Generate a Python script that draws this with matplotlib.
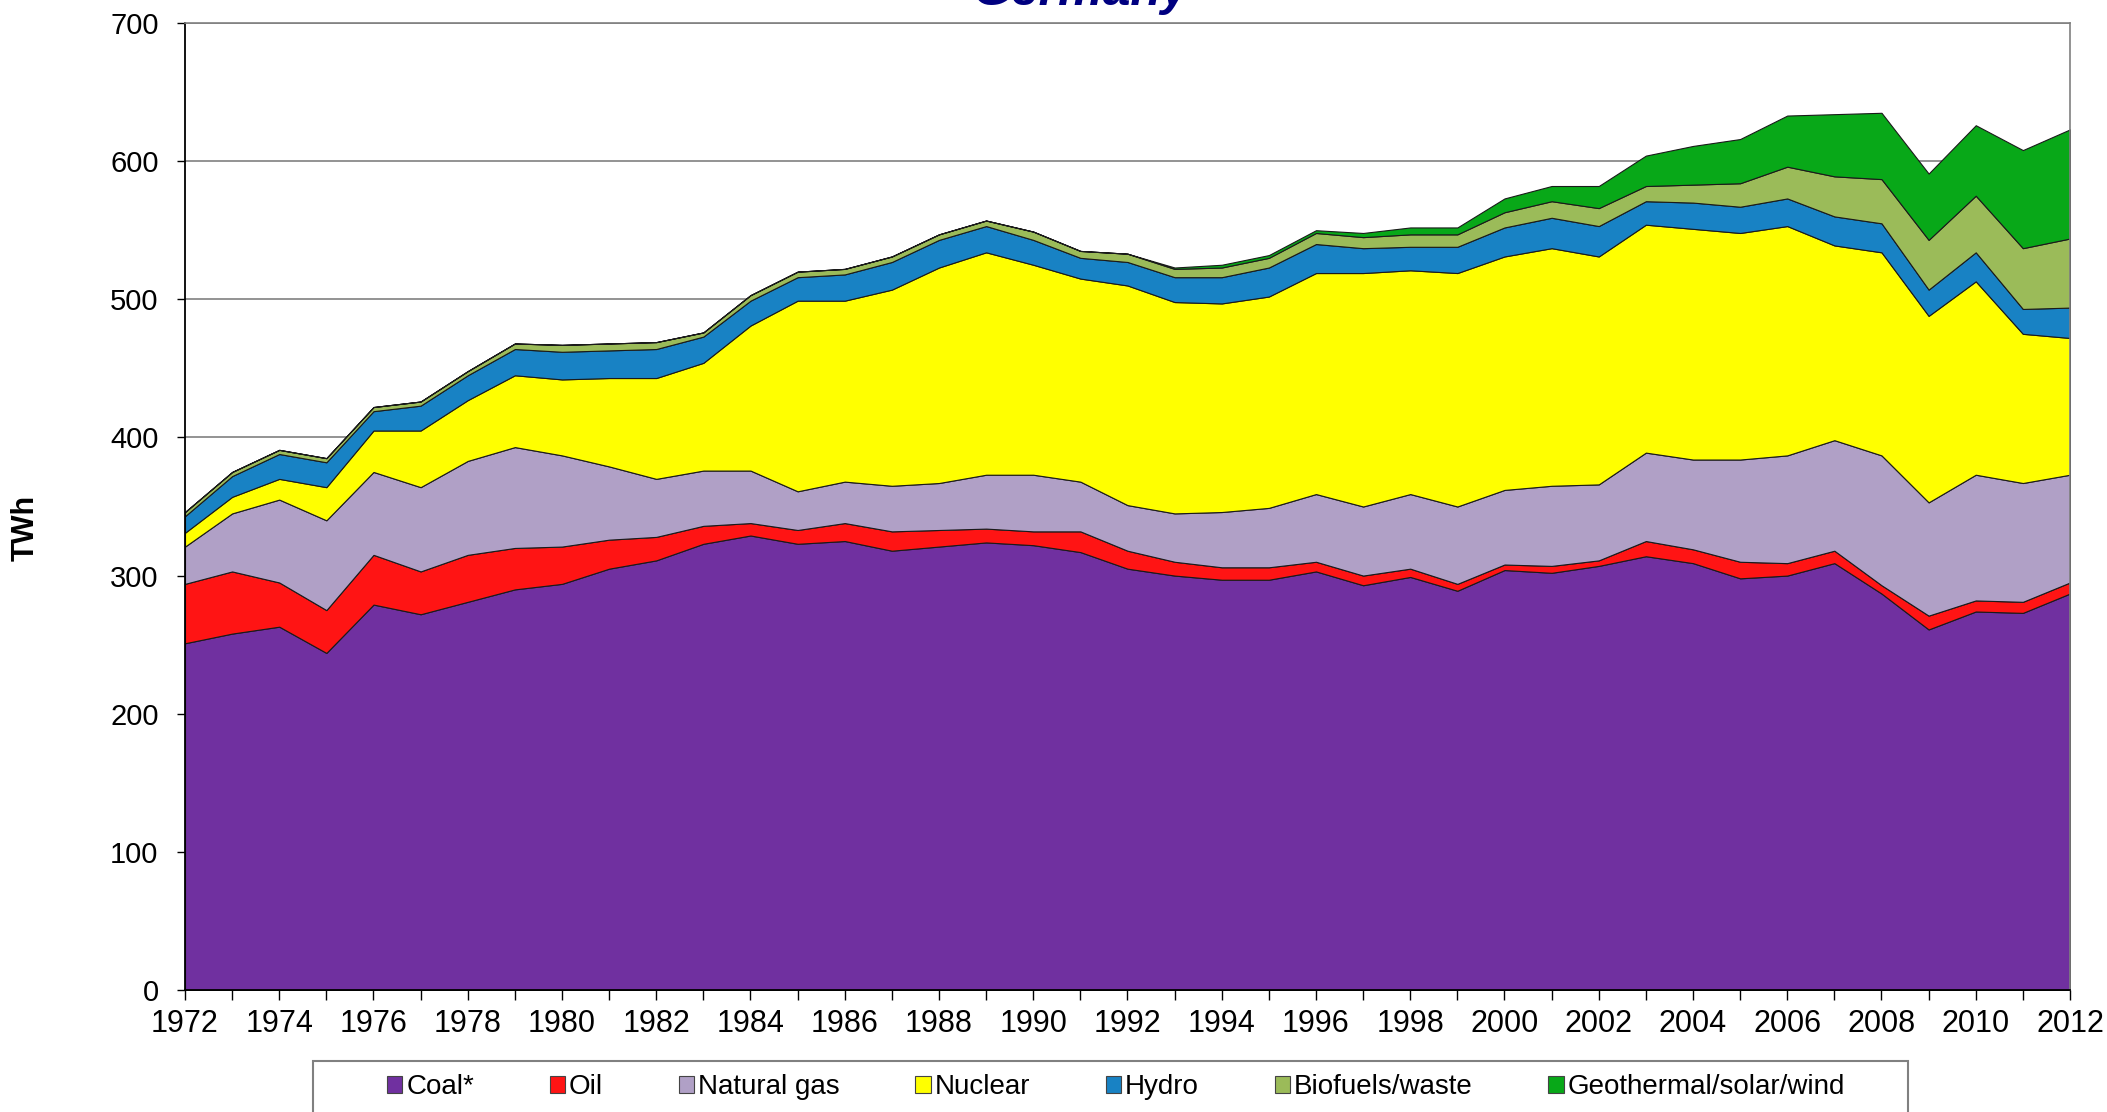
import matplotlib
matplotlib.use("Agg")
import matplotlib.pyplot as plt
from matplotlib.patches import Patch, Rectangle
import numpy as np

plt.rcParams['font.family'] = ['Liberation Sans', 'DejaVu Sans']

years = list(range(1972, 2013))
coal = [251, 258, 263, 244, 279, 272, 281, 290, 294, 305, 311, 323, 329, 323, 325, 318, 321, 324, 322, 317,
        305, 300, 297, 297, 303, 293, 299, 289, 304, 302, 307, 314, 309, 298, 300, 309, 287, 261, 274, 273, 287]
oil = [43, 45, 32, 31, 36, 31, 34, 30, 27, 21, 17, 13, 9, 10, 13, 14, 12, 10, 10, 15,
       13, 10, 9, 9, 7, 7, 6, 5, 4, 5, 4, 11, 10, 12, 9, 9, 6, 10, 8, 8, 8]
natural_gas = [27, 42, 60, 65, 60, 61, 68, 73, 66, 53, 42, 40, 38, 28, 30, 33, 34, 39, 41, 36,
               33, 35, 40, 43, 49, 50, 54, 56, 54, 58, 55, 64, 65, 74, 78, 80, 94, 82, 91, 86, 78]
nuclear = [10, 12, 15, 24, 30, 41, 44, 52, 55, 64, 73, 78, 105, 138, 131, 142, 156, 161, 152, 147,
           159, 153, 151, 153, 160, 169, 162, 169, 169, 172, 165, 165, 167, 164, 166, 141, 147, 135, 140, 108, 99]
hydro = [12, 15, 18, 18, 14, 18, 18, 19, 20, 20, 21, 19, 18, 17, 19, 20, 20, 19, 18, 15,
         17, 18, 19, 21, 21, 18, 17, 19, 21, 22, 22, 17, 19, 19, 20, 21, 21, 19, 21, 18, 22]
biofuels = [3, 3, 3, 3, 3, 3, 3, 4, 5, 5, 5, 3, 4, 4, 4, 4, 4, 4, 6, 5,
            6, 6, 7, 7, 8, 8, 9, 9, 11, 12, 13, 11, 13, 17, 23, 29, 32, 36, 41, 44, 50]
geo_solar_wind = [0, 0, 0, 0, 0, 0, 0, 0, 0, 0, 0, 0, 0, 0, 0, 0, 0, 0, 0, 0,
                  0, 1, 2, 2, 2, 3, 5, 5, 10, 11, 16, 22, 28, 32, 37, 45, 48, 48, 51, 71, 79]

labels = ['Coal*', 'Oil', 'Natural gas', 'Nuclear', 'Hydro', 'Biofuels/waste', 'Geothermal/solar/wind']
colors = ['#7030A0', '#FF1414', '#B0A0C6', '#FFFF00', '#1882C4', '#9BBB59', '#08A818']
yticks = [0, 100, 200, 300, 400, 500, 600, 700]
xtick_labels = list(range(1972, 2013, 2))

W, H = 2107, 1112
fig = plt.figure(figsize=(W / 100, H / 100), dpi=100)
ax = fig.add_axes([185 / W, 1 - 990 / H, (2070 - 185) / W, (990 - 23) / H])

ax.set_axisbelow(True)
ax.yaxis.grid(True, color='#808080', linewidth=1.2)
ax.stackplot(years, coal, oil, natural_gas, nuclear, hydro, biofuels, geo_solar_wind,
             colors=colors, edgecolor='#1a1a1a', linewidth=0.8, zorder=2)

ax.set_xlim(1972, 2012)
ax.set_ylim(0, 700)
ax.set_yticks(yticks)
ax.set_yticklabels([str(v) for v in yticks], fontsize=21)
ax.set_xticks(years, minor=True)
ax.set_xticks(xtick_labels)
ax.set_xticklabels([str(v) for v in xtick_labels], fontsize=22)
ax.tick_params(axis='y', which='major', length=6, width=1, pad=13, direction='out')
ax.tick_params(axis='x', which='both', length=7, width=1, pad=7, direction='out')
ax.tick_params(axis='x', which='minor', labelbottom=False)

for side in ['top', 'right']:
    ax.spines[side].set_color('#808080')
    ax.spines[side].set_linewidth(1.2)
for side in ['left', 'bottom']:
    ax.spines[side].set_color('black')
    ax.spines[side].set_linewidth(1.3)

fig.text(26 / W, 1 - 528 / H, 'TWh', rotation=90, fontsize=22, fontweight='bold',
         ha='center', va='center')

fig.text(1081 / W, 1 - 5 / H, 'Germany', fontsize=36, fontweight='bold', fontstyle='italic',
         color='#000080', ha='center', va='baseline')

# legend box
fig.patches.append(Rectangle((313 / W, -0.05), (1908 - 313) / W, (1 - 1061 / H) + 0.05,
                             transform=fig.transFigure, facecolor='white', edgecolor='#808080',
                             linewidth=1.5, zorder=0))
handles = [Patch(facecolor=c, edgecolor='#444444', linewidth=0.8) for c in colors]
leg = fig.legend(handles, labels, loc='center', bbox_to_anchor=(1116 / W, 1 - 1087 / H),
                 ncol=7, frameon=False, fontsize=20, handlelength=0.55, handleheight=0.55,
                 handletextpad=0.15, columnspacing=2.72, borderpad=0)

fig.savefig('out.png', dpi=100)
